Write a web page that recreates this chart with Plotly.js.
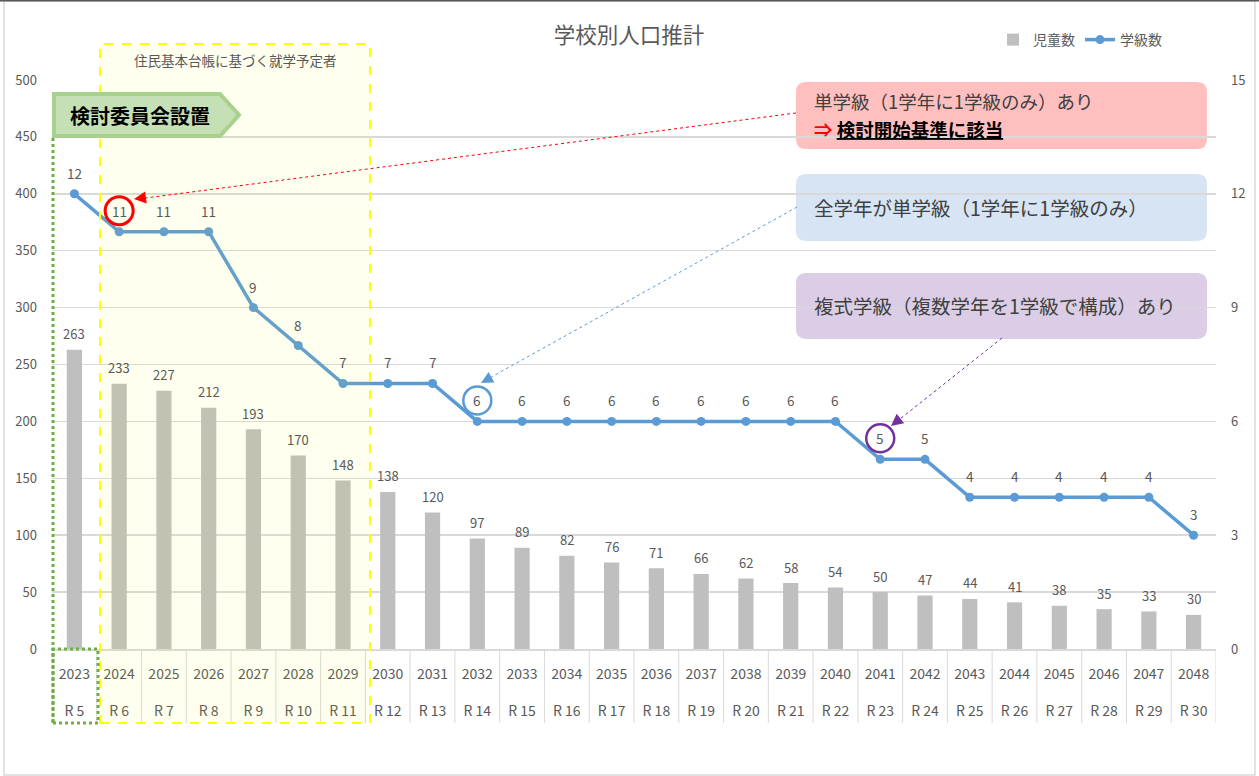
<!DOCTYPE html>
<html><head><meta charset="utf-8">
<script src="https://cdn.plot.ly/plotly-3.0.1.min.js"></script>
<style>body{margin:0;background:#fff}#chart{width:1259px;height:776px}</style>
</head><body><div id="chart"></div>
<script>
const years = ["2023","2024","2025","2026","2027","2028","2029","2030","2031","2032","2033","2034","2035","2036","2037","2038","2039","2040","2041","2042","2043","2044","2045","2046","2047","2048"];
const reiwa = ["R 5","R 6","R 7","R 8","R 9","R 10","R 11","R 12","R 13","R 14","R 15","R 16","R 17","R 18","R 19","R 20","R 21","R 22","R 23","R 24","R 25","R 26","R 27","R 28","R 29","R 30"];
const students = [263,233,227,212,193,170,148,138,120,97,89,82,76,71,66,62,58,54,50,47,44,41,38,35,33,30];
const classes = [12,11,11,11,9,8,7,7,7,6,6,6,6,6,6,6,6,6,5,5,4,4,4,4,4,3];
const seriesNames = ["児童数","学級数"];
const chartTitle = "学校別人口推計";
const periodLabel = "住民基本台帳に基づく就学予定者";
const committeeLabel = "検討委員会設置";
const note1a = "単学級（1学年に1学級のみ）あり";
const note1b = "検討開始基準に該当";
const note2 = "全学年が単学級（1学年に1学級のみ）";
const note3 = "複式学級（複数学年を1学級で構成）あり";

const FONT = "Noto Sans CJK JP, Noto Sans, sans-serif";
const GRAY = "#595959";
const ML = 52, MR = 43, MT = 80, MB = 127, W = 1259, H = 776;
const PW = W - ML - MR, PH = H - MT - MB;
const PX = x => (x - ML) / PW;
const PY = y => (H - MB - y) / PH;
function rr(x0, y0, x1, y1, r) {
  const p = (x, y) => PX(x).toFixed(5) + "," + PY(y).toFixed(5);
  return "M" + p(x0 + r, y0) + " L" + p(x1 - r, y0) + " Q" + p(x1, y0) + " " + p(x1, y0 + r) +
    " L" + p(x1, y1 - r) + " Q" + p(x1, y1) + " " + p(x1 - r, y1) +
    " L" + p(x0 + r, y1) + " Q" + p(x0, y1) + " " + p(x0, y1 - r) +
    " L" + p(x0, y0 + r) + " Q" + p(x0, y0) + " " + p(x0 + r, y0) + " Z";
}
function poly(pts) {
  return "M" + pts.map(q => PX(q[0]).toFixed(5) + "," + PY(q[1]).toFixed(5)).join(" L") + " Z";
}

const traces = [
  { type: "bar", name: seriesNames[0], x: years, y: students, marker: { color: "#bfbfbf" }, width: 0.34, hoverinfo: "skip" },
  { type: "scatter", mode: "lines+markers", name: seriesNames[1], x: years, y: classes, yaxis: "y2",
    line: { color: "#5b9bd5", width: 3.5 }, marker: { color: "#5b9bd5", size: 9 }, hoverinfo: "skip" }
];

const shapes = [];
// outer frame
shapes.push({ type: "rect", xref: "paper", yref: "paper", x0: PX(4), x1: PX(1255), y0: PY(775), y1: PY(1), line: { color: "#d9d9d9", width: 1.5 }, layer: "below" });
shapes.push({ type: "line", xref: "paper", yref: "paper", x0: PX(0), x1: PX(1259), y0: PY(0.5), y1: PY(0.5), line: { color: "#595959", width: 2 } });
// category separators under the axis
for (let i = 0; i <= years.length; i++) {
  shapes.push({ type: "line", xref: "x", yref: "paper", x0: i - 0.5, x1: i - 0.5, y0: PY(723), y1: 0, line: { color: "#d9d9d9", width: 1 }, layer: "below" });
}
// note boxes
shapes.push({ type: "path", xref: "paper", yref: "paper", path: rr(796, 82, 1207, 149, 10), fillcolor: "#ffbfbf", line: { width: 0 }, layer: "below" });
shapes.push({ type: "path", xref: "paper", yref: "paper", path: rr(796, 174, 1207, 241, 10), fillcolor: "#d6e4f3", line: { width: 0 }, layer: "below" });
shapes.push({ type: "path", xref: "paper", yref: "paper", path: rr(796, 273, 1207, 339, 10), fillcolor: "#dbcde6", line: { width: 0 }, layer: "below" });
// yellow period box
shapes.push({ type: "rect", xref: "paper", yref: "paper", x0: PX(100), x1: PX(370), y0: PY(723), y1: PY(44), fillcolor: "rgba(255,255,0,0.06)", line: { color: "#ffff00", width: 2, dash: "dash" }, layer: "above" });
// green dotted marker for 2023
shapes.push({ type: "line", xref: "paper", yref: "paper", x0: PX(53), x1: PX(53), y0: PY(723), y1: PY(137), line: { color: "#70ad47", width: 3, dash: "dot" } });
shapes.push({ type: "rect", xref: "paper", yref: "paper", x0: PX(53), x1: PX(98), y0: PY(723), y1: PY(649), line: { color: "#70ad47", width: 3, dash: "dot" } });
// green pentagon
shapes.push({ type: "path", xref: "paper", yref: "paper", path: poly([[54, 94], [220, 94], [239, 115], [220, 136], [54, 136]]), fillcolor: "#c5e0b4", line: { color: "#a9d18e", width: 4 } });
// dotted leader lines
shapes.push({ type: "line", xref: "paper", yref: "paper", x0: PX(796), y0: PY(113), x1: PX(138), y1: PY(199), line: { color: "#ff0000", width: 1, dash: "dot" } });
shapes.push({ type: "line", xref: "paper", yref: "paper", x0: PX(797), y0: PY(207), x1: PX(486), y1: PY(380), line: { color: "#5b9bd5", width: 1, dash: "dot" } });
shapes.push({ type: "line", xref: "paper", yref: "paper", x0: PX(1002), y0: PY(338), x1: PX(895), y1: PY(423), line: { color: "#7030a0", width: 1, dash: "dot" } });
// circles around labels
function circ(idx, color, w) {
  return { type: "circle", xref: "x", yref: "y2", xsizemode: "pixel", ysizemode: "pixel",
    xanchor: idx, yanchor: classes[idx], x0: -14, x1: 14, y0: 21 - 14, y1: 21 + 14,
    line: { color: color, width: w } };
}
shapes.push(circ(1, "#ff0000", 3));
shapes.push(circ(9, "#5b9bd5", 2.5));
shapes.push(circ(18, "#7030a0", 2.5));

const annotations = [];
for (let i = 0; i < years.length; i++) {
  annotations.push({ x: i, y: students[i], xref: "x", yref: "y", xanchor: "center", yanchor: "middle", text: String(students[i]), showarrow: false, yshift: 16, font: { family: FONT, size: 13, color: GRAY } });
  annotations.push({ x: i, y: classes[i], xref: "x", yref: "y2", xanchor: "center", yanchor: "middle", text: String(classes[i]), showarrow: false, yshift: 21, font: { family: FONT, size: 13.5, color: GRAY } });
}
const txt = (x, y, text, size, color, xa) => ({ xref: "paper", yref: "paper", x: PX(x), y: PY(y), xanchor: xa || "center", yanchor: "middle", text: text, showarrow: false, font: { family: FONT, size: size, color: color } });
annotations.push(txt(235, 60, periodLabel, 13.5, GRAY));
annotations.push(txt(140, 115, "<b>" + committeeLabel + "</b>", 20, "#000000"));
annotations.push(txt(812, 101, note1a, 18.5, "#404040", "left"));
annotations.push(txt(812, 129, "<span style='color:#ff0000'><b>⇒</b></span> <b><u>" + note1b + "</u></b>", 18.5, "#000000", "left"));
annotations.push(txt(812, 207, note2, 19.5, "#404040", "left"));
annotations.push(txt(812, 305, note3, 19.5, "#404040", "left"));
// arrow heads
function head(hx, hy, tx, ty, color) {
  const dx = tx - hx, dy = ty - hy, L = Math.hypot(dx, dy);
  return { xref: "paper", yref: "paper", x: PX(hx), y: PY(hy), ax: dx / L * 9, ay: dy / L * 9, text: "", showarrow: true, arrowhead: 2, arrowsize: 1.6, arrowwidth: 1.5, arrowcolor: color };
}
annotations.push(head(134, 199, 796, 113, "#ff0000"));
annotations.push(head(481, 383, 797, 207, "#5b9bd5"));
annotations.push(head(891, 426, 1002, 338, "#7030a0"));

const layout = {
  width: W, height: H,
  margin: { l: ML, r: MR, t: MT, b: MB, pad: 0 },
  paper_bgcolor: "#ffffff", plot_bgcolor: "rgba(0,0,0,0)",
  font: { family: FONT, color: GRAY },
  title: { text: chartTitle, xref: "container", x: 629 / W, xanchor: "center", yref: "container", y: 1 - 35 / H, yanchor: "middle", font: { family: FONT, size: 21.5, color: GRAY } },
  showlegend: true,
  legend: { orientation: "h", x: PX(993), xanchor: "left", y: PY(40), yanchor: "middle", font: { family: FONT, size: 14, color: GRAY }, bgcolor: "rgba(0,0,0,0)", traceorder: "normal" },
  bargap: 0.66,
  xaxis: { type: "category", categoryorder: "array", categoryarray: years, range: [-0.5, years.length - 0.5],
    tickvals: years, ticktext: years.map((y, i) => y + "<br><br>" + reiwa[i]), tickangle: 0,
    showgrid: false, zeroline: false, showline: true, linecolor: "#d9d9d9", linewidth: 1.5, ticks: "",
    ticklabelstandoff: 12, tickfont: { family: FONT, size: 14, color: GRAY }, fixedrange: true },
  yaxis: { range: [0, 500], dtick: 50, showgrid: true, gridcolor: "#d9d9d9", gridwidth: 1.5, zeroline: false, showline: false,
    ticks: "", ticklabelstandoff: 14, tickfont: { family: FONT, size: 13, color: GRAY }, fixedrange: true },
  yaxis2: { overlaying: "y", side: "right", range: [0, 15], dtick: 3, showgrid: false, zeroline: false, showline: false,
    ticks: "", ticklabelstandoff: 14, tickfont: { family: FONT, size: 13, color: GRAY }, fixedrange: true },
  shapes: shapes, annotations: annotations, hovermode: false
};
Plotly.newPlot("chart", traces, layout, { displayModeBar: false, staticPlot: true });
</script>
</body></html>
